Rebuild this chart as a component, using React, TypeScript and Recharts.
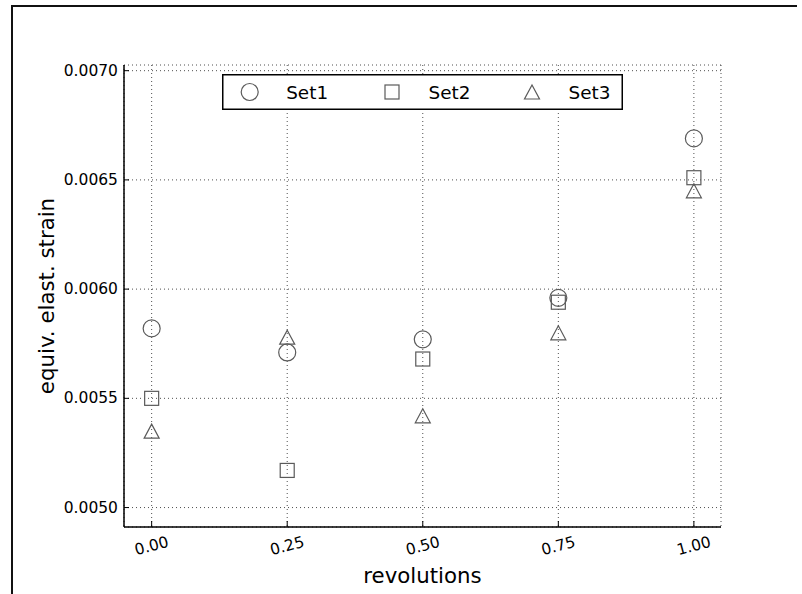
import React from "react";
import { ScatterChart, Scatter, XAxis, YAxis, CartesianGrid, Legend } from "recharts";

const revolutions = [0, 0.25, 0.5, 0.75, 1];
const set1 = [0.00582, 0.00571, 0.00577, 0.00596, 0.00669];
const set2 = [0.0055, 0.00517, 0.00568, 0.00594, 0.00651];
const set3 = [0.00535, 0.00578, 0.00542, 0.0058, 0.00645];
const seriesNames = ["Set1", "Set2", "Set3"];
const xTicks = [0, 0.25, 0.5, 0.75, 1];
const yTicks = [0.005, 0.0055, 0.006, 0.0065, 0.007];

const toPoints = (vals: number[]) => revolutions.map((x, i) => ({ x, y: vals[i] }));

const FONT = "'DejaVu Sans', sans-serif";
const MARK = "#5a5a5a";

const Marker = ({ kind, cx, cy }: { kind: string; cx: number; cy: number }) => {
  if (kind === "circle") return <circle cx={cx} cy={cy} r={8.5} fill="none" stroke={MARK} strokeWidth={1.2} />;
  if (kind === "square") return <rect x={cx - 7} y={cy - 7} width={14} height={14} fill="none" stroke={MARK} strokeWidth={1.2} />;
  return (
    <polygon
      points={`${cx},${cy - 7} ${cx - 7.5},${cy + 7} ${cx + 7.5},${cy + 7}`}
      fill="none"
      stroke={MARK}
      strokeWidth={1.2}
    />
  );
};

const kinds = ["circle", "square", "triangle"];

const XTick = (props: any) => {
  const { x, y, payload } = props;
  const ty = y + 19;
  return (
    <g>
      <line x1={x} y1={y} x2={x} y2={y - 6} stroke="#000" strokeWidth={1} />
      <text
        x={x}
        y={ty}
        textAnchor="middle"
        dominantBaseline="central"
        fontFamily={FONT}
        fontSize={15.5}
        fill="#000"
        transform={`rotate(-15, ${x}, ${ty})`}
      >
        {payload.value.toFixed(2)}
      </text>
    </g>
  );
};

const YTick = (props: any) => {
  const { x, y, payload } = props;
  return (
    <g>
      <line x1={x} y1={y} x2={x + 5} y2={y} stroke="#000" strokeWidth={1} />
      <text x={x - 6} y={y} textAnchor="end" dominantBaseline="central" fontFamily={FONT} fontSize={15.5} fill="#000">
        {payload.value.toFixed(4)}
      </text>
    </g>
  );
};

const LegendBox = () => {
  const itemX = [249.7 - 222, 392 - 222, 532 - 222];
  return (
    <svg width={401} height={36} style={{ display: "block" }}>
      <rect x={0.75} y={0.75} width={399.5} height={34.5} fill="#fff" stroke="#000" strokeWidth={1.5} />
      {seriesNames.map((name, i) => (
        <g key={name}>
          <Marker kind={kinds[i]} cx={itemX[i]} cy={18} />
          <text x={itemX[i] + 36.5} y={18} dominantBaseline="central" fontFamily={FONT} fontSize={18.4} fill="#000">
            {name}
          </text>
        </g>
      ))}
    </svg>
  );
};

export default function App() {
  const datas = [toPoints(set1), toPoints(set2), toPoints(set3)];
  return (
    <div style={{ position: "absolute", left: 0, top: 0, width: 802, height: 594, background: "#fff" }}>
      <div
        style={{
          position: "absolute",
          left: 11,
          top: 5,
          width: 786,
          height: 589,
          borderTop: "2px solid #111",
          borderLeft: "2px solid #111",
          boxSizing: "border-box",
        }}
      />
      <div style={{ position: "absolute", left: 0, top: 0 }}>
        <ScatterChart width={802} height={594} margin={{ top: 65, right: 81, bottom: 0, left: 0 }}>
          <CartesianGrid stroke="#222" strokeWidth={0.8} strokeDasharray="1 3" />
          <XAxis
            type="number"
            dataKey="x"
            domain={[-0.051, 1.05]}
            allowDataOverflow
            ticks={xTicks}
            height={67}
            tickSize={0}
            tickMargin={0}
            tickLine={false}
            axisLine={{ stroke: "#000", strokeWidth: 1.5 }}
            tick={<XTick />}
            interval={0}
            label={(p: any) => {
              const vb = p.viewBox || {};
              return (
                <text x={vb.x + vb.width / 2} y={583} textAnchor="middle" fontFamily={FONT} fontSize={21.3} fill="#000">
                  revolutions
                </text>
              );
            }}
          />
          <YAxis
            type="number"
            dataKey="y"
            domain={[0.004911, 0.007026]}
            allowDataOverflow
            ticks={yTicks}
            width={124}
            tickSize={0}
            tickMargin={0}
            tickLine={false}
            axisLine={{ stroke: "#000", strokeWidth: 1.5 }}
            tick={<YTick />}
            interval={0}
            label={(p: any) => {
              const vb = p.viewBox || {};
              const cy = vb.y + vb.height / 2;
              return (
                <text
                  x={46}
                  y={cy}
                  textAnchor="middle"
                  dominantBaseline="central"
                  fontFamily={FONT}
                  fontSize={21.3}
                  fill="#000"
                  transform={`rotate(-90, 46, ${cy})`}
                >
                  equiv. elast. strain
                </text>
              );
            }}
          />
          <Legend
            layout="horizontal"
            verticalAlign="middle"
            align="center"
            content={<LegendBox />}
            wrapperStyle={{ position: "absolute", left: 222, top: 74, width: 401, height: 36 }}
          />
          {seriesNames.map((name, i) => (
            <Scatter
              key={name}
              name={name}
              data={datas[i]}
              isAnimationActive={false}
              shape={(p: any) => <Marker kind={kinds[i]} cx={p.cx} cy={p.cy} />}
            />
          ))}
        </ScatterChart>
      </div>
    </div>
  );
}
